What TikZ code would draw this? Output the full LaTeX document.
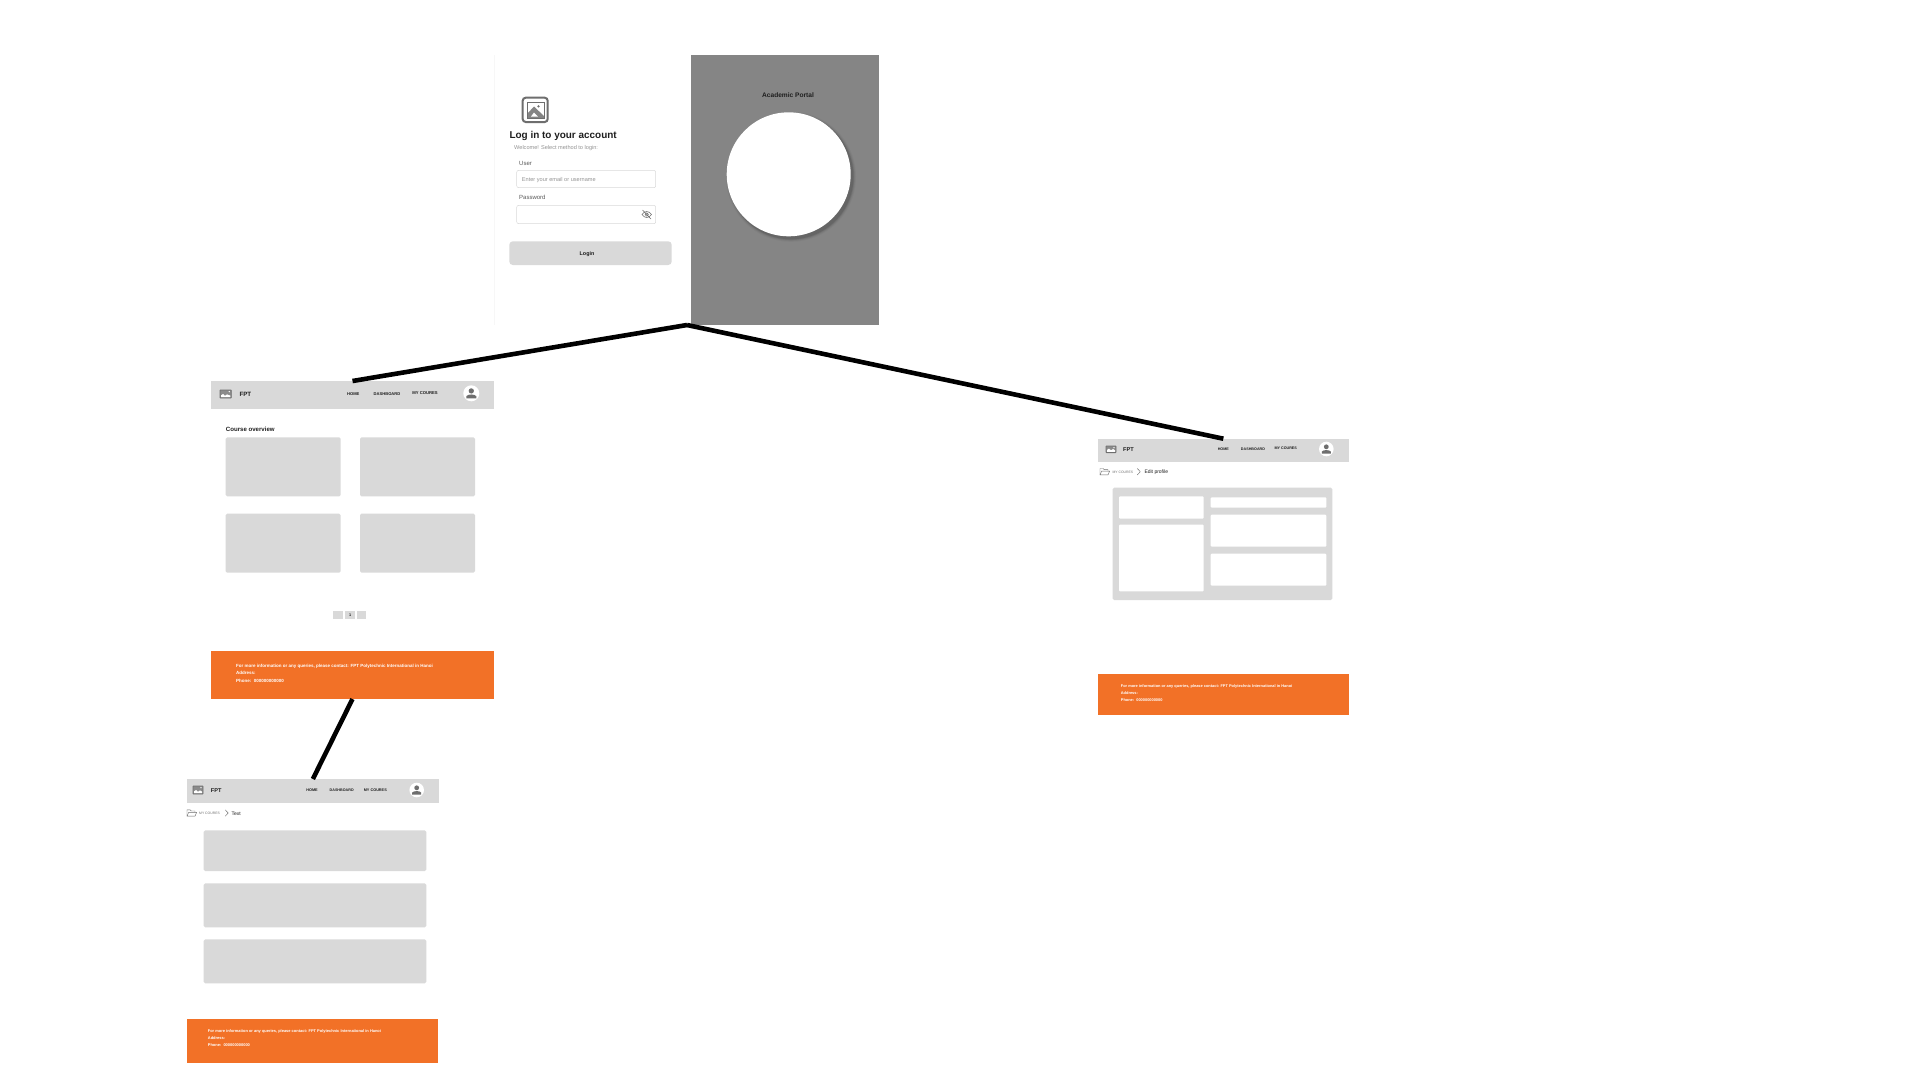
\documentclass[tikz,border=0pt]{standalone}
\usepackage{fontspec}
\setmainfont{Liberation Sans}
\definecolor{panelgrey}{HTML}{858585}
\definecolor{boxgrey}{HTML}{D9D9D9}
\definecolor{footorange}{HTML}{F27127}
\definecolor{iconbody}{HTML}{6E6E6E}
\definecolor{inkdark}{HTML}{1E1E1E}
\newcommand{\fsz}[1]{\fontsize{#1}{#1}\selectfont}
% \bx{name}{style}{x1}{y1}{x2}{y2}
\newcommand{\bx}[6]{%
  \pgfmathsetmacro{\bxw}{#5-#3}\pgfmathsetmacro{\bxh}{#6-#4}%
  \pgfmathsetmacro{\bxcx}{(#3+#5)/2}\pgfmathsetmacro{\bxcy}{(#4+#6)/2}%
  \node[#2,minimum width=\bxw pt,minimum height=\bxh pt] (#1) at (\bxcx,\bxcy) {};}
% \avatar{name}{cx}{cy}{r}
\newcommand{\avatar}[4]{%
  \node[circle,fill=white,inner sep=0pt,minimum size=2*#4 pt] (#1) at (#2,#3) {};
  \fill[iconbody] ({#2},{#3-0.3*#4}) circle ({0.33*#4 pt});
  \fill[iconbody] ({#2-0.62*#4},{#3+0.62*#4}) -- ({#2-0.62*#4},{#3+0.35*#4}) .. controls ({#2-0.4*#4},{#3+0.08*#4}) and ({#2+0.4*#4},{#3+0.08*#4}) .. ({#2+0.62*#4},{#3+0.35*#4}) -- ({#2+0.62*#4},{#3+0.62*#4}) -- cycle;}
% \logoicon{name}{x1}{y1}{x2}{y2}
\newcommand{\logoicon}[5]{%
  \bx{#1}{logobox}{#2}{#3}{#4}{#5}
  \fill[white] ({#2+1},{#5-0.8}) -- ({#2+1},{#5-2.6}) -- ({#2+3},{#5-4}) -- ({#2+5},{#5-2.2}) -- ({#2+7},{#5-3.6}) -- ({#4-1},{#5-2.4}) -- ({#4-1},{#5-0.8}) -- cycle;
  \fill[white] ({#4-2},{#3+1.6}) circle (0.7pt);}
% \folder{x1}{cy}
\newcommand{\folder}[2]{%
  \draw[thinicon] ({#1},{#2+3.2}) -- ({#1},{#2-3.2}) -- ({#1+3.2},{#2-3.2}) -- ({#1+4.2},{#2-2}) -- ({#1+8},{#2-2}) -- ({#1+8},{#2-0.6});
  \draw[thinicon] ({#1},{#2+3.2}) -- ({#1+1.6},{#2-0.6}) -- ({#1+9.6},{#2-0.6}) -- ({#1+8},{#2+3.2}) -- cycle;}
% \chevronmark{x}{cy}
\newcommand{\chevronmark}[2]{\draw[thinicon] ({#1},{#2-3.2}) -- ({#1+3},{#2}) -- ({#1},{#2+3.2});}
\tikzset{
  greybox/.style={fill=boxgrey,draw=none,inner sep=0pt,outer sep=0pt},
  cardbox/.style={greybox,rounded corners=1.5pt},
  whitebox/.style={fill=white,draw=none,inner sep=0pt,outer sep=0pt,rounded corners=1pt},
  footbox/.style={fill=footorange,draw=none,inner sep=0pt,outer sep=0pt},
  panelbox/.style={fill=panelgrey,draw=none,inner sep=0pt,outer sep=0pt},
  inputbox/.style={fill=white,draw=boxgrey,line width=0.5pt,rounded corners=2pt,inner sep=0pt,outer sep=0pt},
  logobox/.style={fill=iconbody!80,draw=iconbody,line width=0.8pt,inner sep=0pt,outer sep=0pt,rounded corners=0.5pt},
  thinicon/.style={draw=iconbody,line width=0.45pt,line join=round,fill=none},
  link/.style={draw=black,line width=4.6pt},
  navtext/.style={font=\bfseries\fsz{#1},text=inkdark,inner sep=0pt},
  brandtext/.style={font=\bfseries\fsz{#1},text=inkdark,inner sep=0pt,anchor=west},
  foottext/.style={font=\bfseries\fsz{#1},text=white,inner sep=0pt,anchor=west},
  crumbfaint/.style={font=\fsz{3.4},text=black!55,inner sep=0pt,anchor=west},
  crumbtext/.style={font=\fsz{5},text=inkdark,inner sep=0pt,anchor=west},
  formlabel/.style={font=\fsz{6},text=black!65,inner sep=0pt,anchor=west},
  hinttext/.style={font=\fsz{5.6},text=black!42,inner sep=0pt,anchor=west},
}
\begin{document}
\begin{tikzpicture}[x=1pt,y=-1pt]
\useasboundingbox (0,0) rectangle (1920,1080);
\fill[white] (0,0) rectangle (1920,1080);

% ---- login screen ----
\draw[black!3,line width=0.6pt] (494,55) -- (494,325);
\bx{panel}{panelbox}{690.5}{54.7}{879}{325}
\node[font=\bfseries\fsz{6.6},text=inkdark,inner sep=0pt] (portal) at (788,95.5) {Academic Portal};
\foreach \r/\o in {65/0.03,64/0.05,63.2/0.07,62.5/0.09}{
  \fill[black,opacity=\o] (791,176.8) circle (\r pt);}
\node[circle,fill=white,inner sep=0pt,minimum size=124pt] (disc) at (788.7,174.3) {};

\bx{bigicon}{fill=white,draw=iconbody,line width=2pt,rounded corners=3pt,inner sep=0pt,outer sep=0pt}{522.7}{97.7}{547.7}{122}
\fill[iconbody!85] (527,118) -- (527,114) -- (534,106.5) -- (544,116) -- (544,118) -- cycle;
\fill[white] (531,116.5) -- (534,112.5) -- (538,116.5) -- cycle;
\draw[iconbody,line width=1pt] (527,118) rectangle (544,102);
\fill[iconbody] (538.5,106.3) circle (1.3pt);

\node[font=\bfseries\fsz{9.95},text=inkdark,inner sep=0pt,anchor=west] (logintitle) at (509.3,135.5) {Log in to your account};
\node[hinttext] (welcome) at (514,148.5) {Welcome! Select method to login:};
\node[formlabel] (userlbl) at (519,163.5) {User};
\bx{userinput}{inputbox}{516.7}{170.3}{655.7}{187.7}
\node[hinttext] (placeholder) at (521.7,179.8) {Enter your email or username};
\node[formlabel] (passlbl) at (519,197.5) {Password};
\bx{passinput}{inputbox}{516.7}{205.3}{655.7}{223.7}
\draw[thinicon,line width=0.6pt] (642,214.5) .. controls (645,210.5) and (648.5,210.5) .. (651.5,214.5) .. controls (648.5,218.5) and (645,218.5) .. (642,214.5) -- cycle;
\draw[thinicon,line width=0.6pt] (646.7,214.5) circle (1.7pt);
\draw[thinicon,line width=0.6pt] (642.5,210) -- (651,219);
\bx{loginbtn}{fill=boxgrey,draw=none,rounded corners=3.5pt,inner sep=0pt,outer sep=0pt}{509.3}{241.3}{671.7}{265}
\node[font=\bfseries\fsz{5.4},text=inkdark,inner sep=0pt] (logintxt) at (587,253.8) {Login};
\coordinate (apex) at (687,325);

% ---- course overview screen ----
\bx{nava}{greybox}{211}{381}{494}{408.7}
\logoicon{logoa}{220}{390}{231.3}{398}
\node[brandtext=6.2] (fpta) at (239.3,394) {FPT};
\node[navtext=4.1] (homea) at (353.3,394) {HOME};
\node[navtext=4.1] (dasha) at (387,394) {DASHBOARD};
\node[navtext=4.2] (coura) at (425,393) {MY COURES};
\avatar{avatara}{471.3}{393.3}{8}
\node[brandtext=6.1] (overview) at (225.7,429.6) {Course overview};
\bx{carda}{cardbox}{225.7}{437.3}{340.7}{496.3}
\bx{cardb}{cardbox}{360}{437.3}{475}{496.3}
\bx{cardc}{cardbox}{225.7}{513.7}{340.7}{572.7}
\bx{cardd}{cardbox}{360}{513.7}{475}{572.7}
\bx{pagea}{greybox}{333.3}{611.3}{343}{619.3}
\bx{pageb}{greybox}{345.3}{611.3}{355}{619.3}
\bx{pagec}{greybox}{356.7}{611.3}{366.3}{619.3}
\node[font=\bfseries\fsz{3.8},text=inkdark,inner sep=0pt] (pagenum) at (350.1,615.3) {1};
\bx{foota}{footbox}{211}{650.7}{494}{699}
\node[foottext=4.5] (fa1) at (236,665.9) {For more information or any queries, please contact: FPT Polytechnic International in Hanoi};
\node[foottext=4.5] (fa2) at (236,673.2) {Address:};
\node[foottext=4.5] (fa3) at (236,680.5) {Phone:\ \ 000000000000};

% ---- test screen ----
\bx{navb}{greybox}{187}{779}{438.7}{803.3}
\logoicon{logob}{193}{786}{203}{794}
\node[brandtext=5.6] (fptb) at (210.7,790.7) {FPT};
\node[navtext=3.8] (homeb) at (312,790.3) {HOME};
\node[navtext=3.7] (dashb) at (341.7,790.3) {DASHBOARD};
\node[navtext=3.8] (courb) at (375.3,789.7) {MY COURES};
\avatar{avatarb}{416.7}{790}{7.3}
\folder{187}{813}
\node[crumbfaint] (crumbb) at (199,813.7) {MY COURES};
\chevronmark{225.2}{813}
\node[crumbtext] (crumbc) at (231.3,813.3) {Text};
\bx{rowa}{cardbox}{203.7}{830.3}{426.3}{871}
\bx{rowb}{cardbox}{203.7}{883.3}{426.3}{927.3}
\bx{rowc}{cardbox}{203.7}{939.3}{426.3}{983.3}
\bx{footb}{footbox}{187}{1018.7}{438.3}{1062.7}
\node[foottext=3.96] (fb1) at (207.7,1031.9) {For more information or any queries, please contact: FPT Polytechnic International in Hanoi};
\node[foottext=3.96] (fb2) at (207.7,1038.5) {Address:};
\node[foottext=3.96] (fb3) at (207.7,1044.9) {Phone:\ \ 000000000000};

% ---- edit profile screen ----
\bx{navc}{greybox}{1098}{438.7}{1348.7}{462.3}
\logoicon{logoc}{1106}{446}{1116}{452.6}
\node[brandtext=5.6] (fptc) at (1123,449.3) {FPT};
\node[navtext=3.7] (homec) at (1223.3,449.3) {HOME};
\node[navtext=3.7] (dashc) at (1253,449.3) {DASHBOARD};
\node[navtext=3.7] (courc) at (1285.7,448.7) {MY COURES};
\avatar{avatarc}{1326.3}{449}{7.3}
\folder{1100}{471.7}
\node[crumbfaint] (crumbd) at (1112.3,472.3) {MY COURES};
\chevronmark{1137.3}{471.7}
\node[crumbtext] (crumbe) at (1144.3,472.3) {Edit profile};
\bx{profile}{cardbox}{1112.7}{487.7}{1332.3}{600}
\bx{plefta}{whitebox}{1119}{496.3}{1203.7}{518.7}
\bx{pleftb}{whitebox}{1119}{524.7}{1203.7}{591.3}
\bx{prighta}{whitebox}{1210.7}{497.3}{1326.3}{507.7}
\bx{prightb}{whitebox}{1210.7}{514.7}{1326.3}{546.7}
\bx{prightc}{whitebox}{1210.7}{553.7}{1326.3}{585.7}
\bx{footc}{footbox}{1098}{674}{1348.7}{715}
\node[foottext=3.92] (fc1) at (1120.7,686.9) {For more information or any queries, please contact: FPT Polytechnic International in Hanoi};
\node[foottext=3.92] (fc2) at (1120.7,693.5) {Address:};
\node[foottext=3.92] (fc3) at (1120.7,699.9) {Phone:\ \ 000000000000};

% ---- connectors ----
\draw[link] (apex) -- (nava.north);
\draw[link] (apex) -- (navc.north);
\draw[link] (foota.south) -- (navb.north);
\end{tikzpicture}
\end{document}
